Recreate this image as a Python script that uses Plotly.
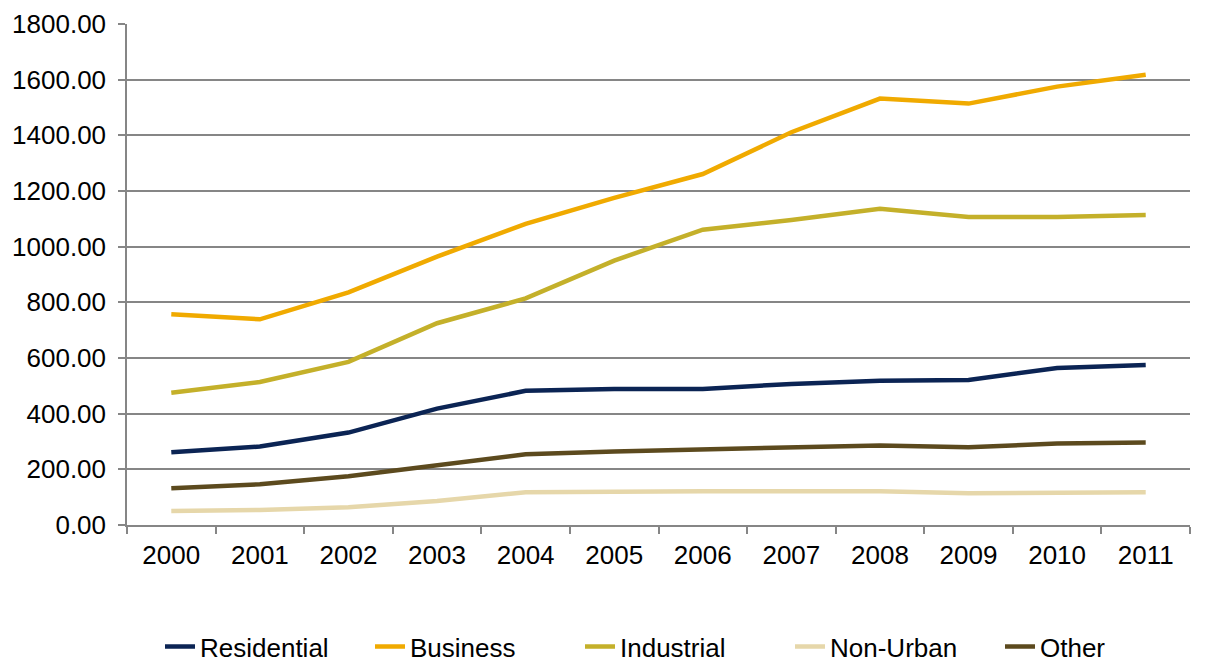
import plotly.graph_objects as go

YEARS = ["2000", "2001", "2002", "2003", "2004", "2005",
         "2006", "2007", "2008", "2009", "2010", "2011"]

RESIDENTIAL = [261, 282, 332, 418, 482, 489, 489, 507, 518, 521, 564, 575]
BUSINESS = [757, 739, 836, 964, 1082, 1175, 1261, 1411, 1532, 1514, 1575, 1618]
INDUSTRIAL = [475, 514, 586, 725, 814, 950, 1061, 1096, 1136, 1107, 1107, 1114]
NON_URBAN = [50, 54, 64, 86, 118, 121, 121, 121, 121, 114, 118, 118]
OTHER = [132, 146, 175, 214, 254, 264, 271, 279, 286, 279, 293, 296]

SERIES = [
    ("Residential", RESIDENTIAL, "#0B2454"),
    ("Business", BUSINESS, "#F0AA00"),
    ("Industrial", INDUSTRIAL, "#C4B02A"),
    ("Non-Urban", NON_URBAN, "#E6D7AA"),
    ("Other", OTHER, "#5C4A1E"),
]

FONT = "Liberation Sans, Arial, sans-serif"
TICK_FONT = dict(family=FONT, size=26, color="black")

fig = go.Figure()
for name, vals, color in SERIES:
    fig.add_trace(go.Scatter(
        x=YEARS, y=vals, mode="lines", name=name,
        line=dict(color=color, width=4.5),
    ))

# the page body adds an 8px margin, so the figure is a bit smaller than the window
fig.update_layout(
    width=1202, height=657,
    margin=dict(l=119, r=20, t=16, b=140),
    plot_bgcolor="white", paper_bgcolor="white",
    font=dict(family=FONT, size=26, color="black"),
    legend=dict(
        orientation="h", xref="paper", x=0.033, xanchor="left",
        yref="container", y=0.028, yanchor="middle",
        font=dict(family=FONT, size=26, color="black"),
        itemwidth=30, tracegroupgap=0, entrywidth=165,
    ),
)
fig.update_xaxes(
    type="category", range=[-0.5, 11.5], tickson="boundaries",
    ticks="outside", ticklen=7, ticklabelstandoff=6,
    tickcolor="#868686", tickwidth=1.5,
    showline=True, linecolor="#868686", linewidth=1.5,
    showgrid=False, automargin=False, tickfont=TICK_FONT,
)
fig.update_yaxes(
    range=[0, 1800], dtick=200, tickformat=".2f",
    ticks="outside", ticklen=7, ticklabelstandoff=7,
    tickcolor="#868686", tickwidth=1.5, ticklabeloverflow="allow",
    showline=True, linecolor="#868686", linewidth=1.5,
    showgrid=True, gridcolor="#868686", gridwidth=1.5,
    zeroline=False, automargin=False, tickfont=TICK_FONT,
)

fig.write_html("out.html")
